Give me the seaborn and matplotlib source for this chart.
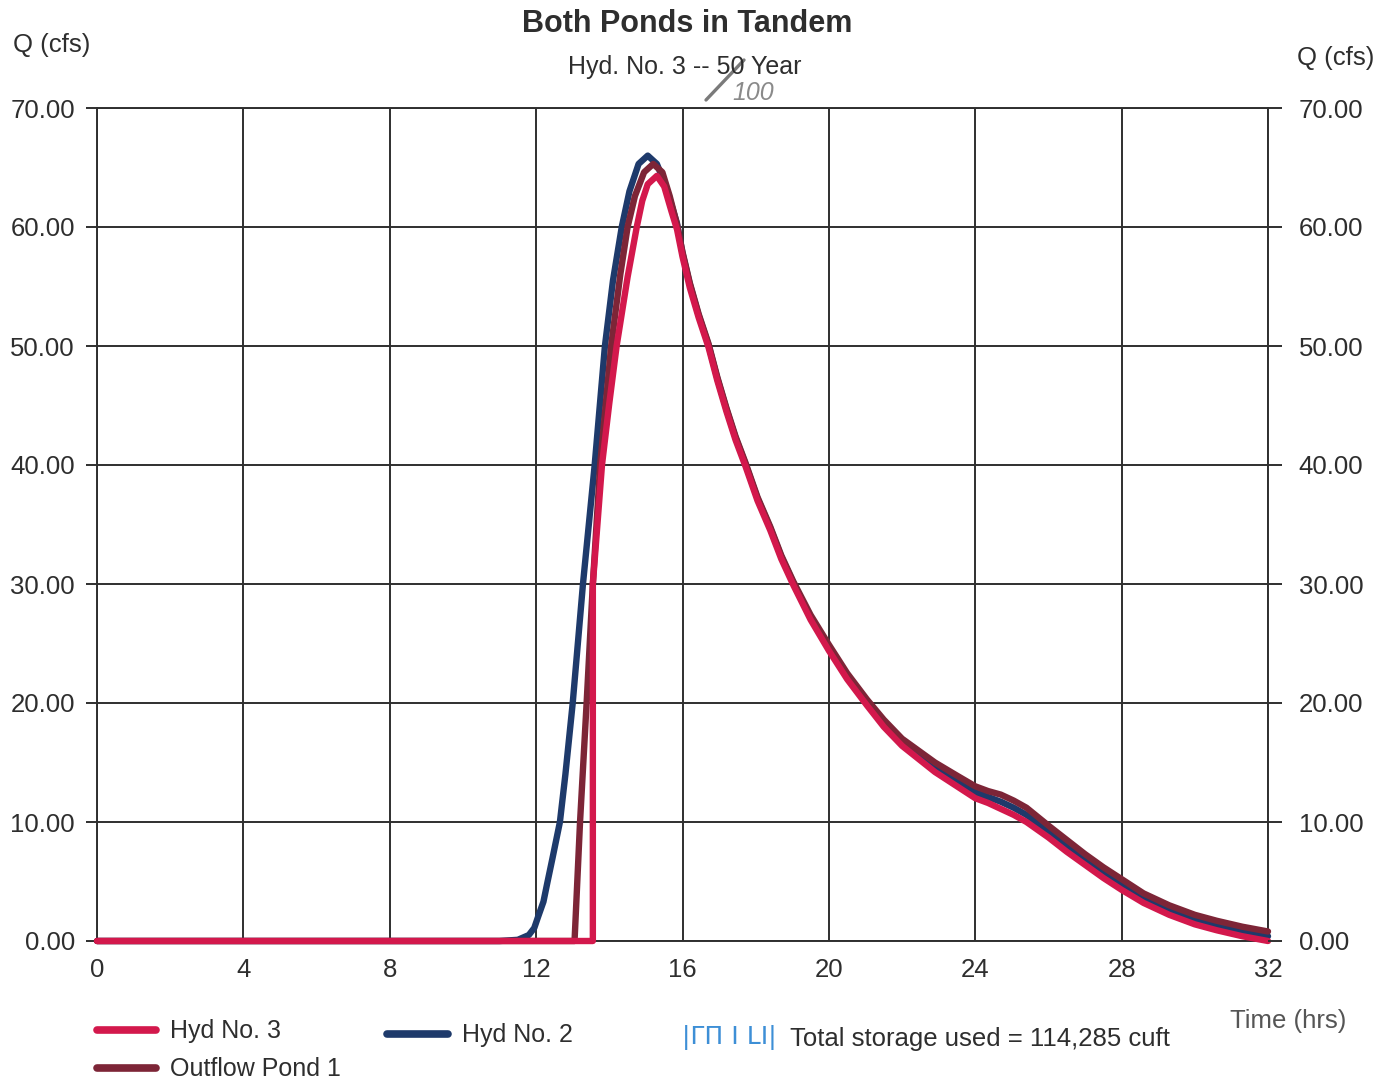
import matplotlib
matplotlib.use("Agg")
import matplotlib.pyplot as plt
from matplotlib.lines import Line2D
import seaborn as sns
import pandas as pd

# ---------------- data ----------------
# Hyd No. 2 (navy)
t_hyd2 = [0.0, 11.0, 11.5, 11.8, 11.95, 12.05, 12.2, 12.3, 12.45, 12.65, 12.8,
          13.0, 13.28, 13.6, 13.88, 14.1, 14.34, 14.55, 14.8, 15.05, 15.3,
          15.55, 15.85, 16.0, 16.2, 16.44, 16.71, 16.95, 17.2, 17.45, 17.72,
          18.05, 18.4, 18.7, 19.03, 19.5, 20.0, 20.5, 21.04, 21.5, 22.0, 22.9,
          23.5, 24.0, 24.35, 24.7, 25.05, 25.4, 26.0, 26.5, 27.0, 27.5, 28.0,
          28.6, 29.3, 30.0, 30.6, 31.3, 32.0]
q_hyd2 = [0.0, 0.0, 0.1, 0.5, 1.1, 2.0, 3.3, 4.8, 7.0, 10.0, 14.0,
          20.0, 30.0, 40.0, 50.0, 55.5, 60.0, 63.0, 65.3, 66.0, 65.3,
          63.4, 60.3, 57.8, 55.2, 52.6, 50.1, 47.3, 44.7, 42.3, 40.1,
          37.2, 34.7, 32.3, 30.1, 27.2, 24.7, 22.3, 20.1, 18.3, 16.7, 14.6,
          13.4, 12.5, 12.1, 11.7, 11.2, 10.6, 9.2, 8.0, 6.9, 5.8, 4.8,
          3.6, 2.6, 1.8, 1.3, 0.8, 0.4]

# Outflow Pond 1 (maroon)
t_out = [0.0, 13.05, 13.2, 13.38, 13.55, 13.75, 14.05, 14.3, 14.5, 14.7,
         14.95, 15.2, 15.45, 15.65, 15.85, 16.0, 16.2, 16.44, 16.71, 16.95,
         17.2, 17.45, 17.72, 18.05, 18.4, 18.7, 19.03, 19.5, 20.0, 20.5,
         21.04, 21.5, 22.0, 22.9, 23.5, 24.0, 24.35, 24.7, 25.05, 25.4, 26.0,
         26.5, 27.0, 27.5, 28.0, 28.6, 29.3, 30.0, 30.6, 31.3, 32.0]
q_out = [0.0, 0.0, 10.0, 20.0, 30.0, 40.0, 50.0, 56.0, 60.0, 62.6,
         64.6, 65.3, 64.6, 62.6, 60.2, 57.9, 55.3, 52.7, 50.2, 47.4,
         44.8, 42.4, 40.2, 37.3, 34.8, 32.4, 30.2, 27.4, 24.9, 22.5,
         20.3, 18.6, 17.0, 15.0, 13.9, 13.0, 12.6, 12.3, 11.8, 11.2, 9.7,
         8.5, 7.3, 6.2, 5.2, 4.0, 3.0, 2.2, 1.7, 1.2, 0.8]

# Hyd No. 3 (crimson)
t_hyd3 = [0.0, 13.55, 13.55, 13.8, 14.0, 14.2, 14.5, 14.75, 14.9, 15.05,
          15.3, 15.5, 15.7, 15.85, 16.0, 16.2, 16.44, 16.71, 16.95, 17.2,
          17.45, 17.72, 18.05, 18.4, 18.7, 19.03, 19.5, 20.0, 20.5, 21.04,
          21.5, 22.0, 22.9, 23.5, 24.0, 24.35, 24.7, 25.05, 25.4, 26.0, 26.5,
          27.0, 27.5, 28.0, 28.6, 29.3, 30.0, 30.6, 31.3, 32.0]
q_hyd3 = [0.0, 0.0, 30.0, 40.0, 45.2, 50.0, 55.8, 60.0, 62.2, 63.6,
          64.3, 63.4, 61.3, 59.8, 57.5, 54.9, 52.4, 49.9, 47.1, 44.5,
          42.1, 39.9, 37.0, 34.5, 32.1, 29.9, 27.0, 24.4, 22.0, 19.8,
          18.0, 16.4, 14.2, 13.0, 12.0, 11.6, 11.1, 10.6, 10.0, 8.7, 7.5,
          6.4, 5.3, 4.3, 3.2, 2.2, 1.4, 0.9, 0.4, 0.0]

x_ticks = [0, 4, 8, 12, 16, 20, 24, 28, 32]
y_ticks = [0, 10, 20, 30, 40, 50, 60, 70]
y_tick_labels = ["0.00", "10.00", "20.00", "30.00", "40.00", "50.00", "60.00", "70.00"]

series_names = ["Hyd No. 3", "Hyd No. 2", "Outflow Pond 1"]
title = "Both Ponds in Tandem"
subtitle = "Hyd. No. 3 -- 50 Year"
storage_text = "Total storage used = 114,285 cuft"

# ---------------- style ----------------
sns.set_theme(style="white")
plt.rcParams["font.family"] = ["Liberation Sans", "DejaVu Sans"]

C_HYD3 = "#d3184c"
C_HYD2 = "#1e3a6b"
C_OUT = "#7d2537"
TXT = "#2e2e2e"
GRID = "#2f2f2f"

W, H = 1393, 1080
fig = plt.figure(figsize=(W / 100, H / 100), dpi=100)
fig.patch.set_facecolor("white")

left, right, top, bottom = 97, 1268, 108, 941
ax = fig.add_axes([left / W, 1 - bottom / H, (right - left) / W, (bottom - top) / H])

df2 = pd.DataFrame({"t": t_hyd2, "q": q_hyd2})
dfo = pd.DataFrame({"t": t_out, "q": q_out})
df3 = pd.DataFrame({"t": t_hyd3, "q": q_hyd3})

lw = 4.6
sns.lineplot(data=df2, x="t", y="q", ax=ax, sort=False, estimator=None,
             color=C_HYD2, lw=lw, zorder=3)
sns.lineplot(data=dfo, x="t", y="q", ax=ax, sort=False, estimator=None,
             color=C_OUT, lw=lw, zorder=4)
sns.lineplot(data=df3, x="t", y="q", ax=ax, sort=False, estimator=None,
             color=C_HYD3, lw=lw, zorder=5)
for ln in ax.get_lines():
    ln.set_clip_on(False)
    ln.set_solid_joinstyle("round")
    ln.set_solid_capstyle("round")

ax.set_xlim(0, 32)
ax.set_ylim(0, 70)
ax.set_xticks(x_ticks)
ax.set_xticklabels([str(v) for v in x_ticks])
ax.set_yticks(y_ticks)
ax.set_yticklabels(y_tick_labels)
ax.set_xlabel("")
ax.set_ylabel("")
ax.grid(True, color=GRID, lw=1.4)
ax.set_axisbelow(True)
for s in ax.spines.values():
    s.set_visible(True)
    s.set_color(GRID)
    s.set_linewidth(1.4)

ax.tick_params(axis="y", which="both", left=True, length=8, width=1.4,
               color=GRID, pad=8, labelsize=18.5, labelcolor=TXT)
ax.tick_params(axis="x", which="both", bottom=False, length=0, pad=12,
               labelsize=18.5, labelcolor=TXT)

ax2 = ax.twinx()
ax2.set_ylim(0, 70)
ax2.set_yticks(y_ticks)
ax2.set_yticklabels(y_tick_labels)
ax2.tick_params(axis="y", right=True, length=10, width=1.4, color=GRID,
                pad=12, labelsize=18.5, labelcolor=TXT)
for s in ax2.spines.values():
    s.set_visible(False)

def fx(px):
    return px / W

def fy(py):
    return 1 - py / H

# titles and axis labels
fig.text(fx(687), fy(24), title, ha="center", va="center", fontsize=22,
         fontweight="bold", color=TXT)
fig.text(fx(685), fy(67), subtitle, ha="center", va="center", fontsize=18,
         color=TXT)
# handwritten correction
fig.add_artist(Line2D([fx(706), fx(744)], [fy(100), fy(60)], color="#7a7a7a",
                      lw=2.4, transform=fig.transFigure))
fig.text(fx(753), fy(93), "100", ha="center", va="center", fontsize=18,
         style="italic", color="#8a8a8a")

fig.text(fx(52), fy(45), "Q (cfs)", ha="center", va="center", fontsize=18.5,
         color=TXT)
fig.text(fx(1336), fy(58), "Q (cfs)", ha="center", va="center", fontsize=18.5,
         color=TXT)
fig.text(fx(1288), fy(1021), "Time (hrs)", ha="center", va="center",
         fontsize=18.5, color="#555555")

# legend (manual layout)
def leg_line(x0, x1, y, color):
    fig.add_artist(Line2D([fx(x0), fx(x1)], [fy(y), fy(y)], color=color,
                          lw=5.5, solid_capstyle="round",
                          transform=fig.transFigure))

leg_line(97, 156, 1030, C_HYD3)
fig.text(fx(170), fy(1031), series_names[0], ha="left", va="center",
         fontsize=18, color=TXT)
leg_line(387, 448, 1034, C_HYD2)
fig.text(fx(462), fy(1035), series_names[1], ha="left", va="center",
         fontsize=18, color=TXT)
leg_line(97, 156, 1068, C_OUT)
fig.text(fx(170), fy(1069), series_names[2], ha="left", va="center",
         fontsize=18, color=TXT)
fig.text(fx(729), fy(1038), "|ΓΠ I LI|", ha="center", va="center",
         fontsize=18, color="#3d8fd6", family="DejaVu Sans")
fig.text(fx(790), fy(1039), storage_text, ha="left", va="center",
         fontsize=18.5, color=TXT)

fig.savefig("out.png", dpi=100, facecolor="white")
